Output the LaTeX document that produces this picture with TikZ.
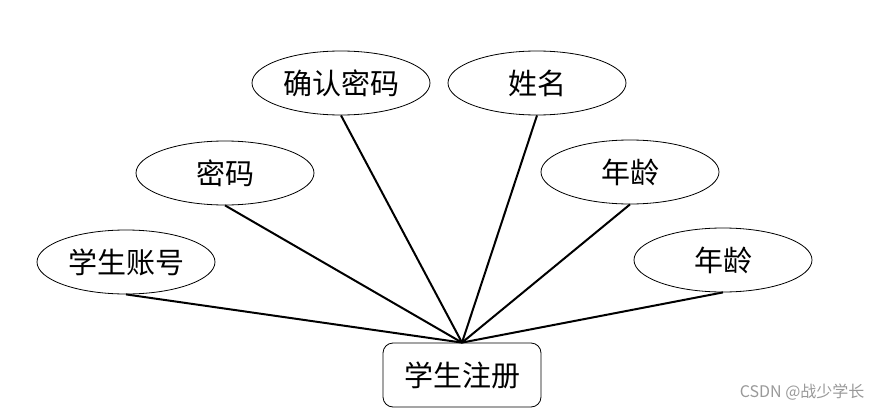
\documentclass[tikz,border=0pt]{standalone}
\usepackage{fontspec}
\newfontfamily\cjk{Noto Sans CJK SC}
\usetikzlibrary{shapes.geometric}
\definecolor{wmgray}{rgb}{0.6, 0.6, 0.6}
\tikzset{attr/.style = {draw, ellipse, line width=0.8pt, inner sep=0,
                        minimum width=178, minimum height=64,
                        font=\cjk\fontsize{29}{29}\selectfont}}
\tikzset{entity/.style = {draw, rounded corners=10, line width=0.8pt,
                          inner sep=0, minimum width=158, minimum height=64,
                          font=\cjk\fontsize{29}{29}\selectfont}}
\tikzset{link/.style = {line width=2pt}}
\begin{document}
\begin{tikzpicture}[x=1pt, y=-1pt]
      \useasboundingbox (0,0) rectangle (883,412);
      \node[entity] (zc) at (462,375) {学生注册};
      \node[attr] (zh) at (126,262) {学生账号};
      \node[attr] (mm) at (225,173) {密码};
      \node[attr] (qr) at (341,83) {确认密码};
      \node[attr] (xm) at (537,83) {姓名};
      \node[attr] (nl1) at (630,172) {年龄};
      \node[attr] (nl2) at (723,260) {年龄};
      \foreach \a in {zh, mm, qr, xm, nl1, nl2}
        \draw[link] (\a.south) -- (zc.north);
      \node[anchor=east, text=wmgray, font=\cjk\fontsize{16}{16}\selectfont]
        (wm) at (868,392) {CSDN @战少学长};
    \end{tikzpicture}
\end{document}
